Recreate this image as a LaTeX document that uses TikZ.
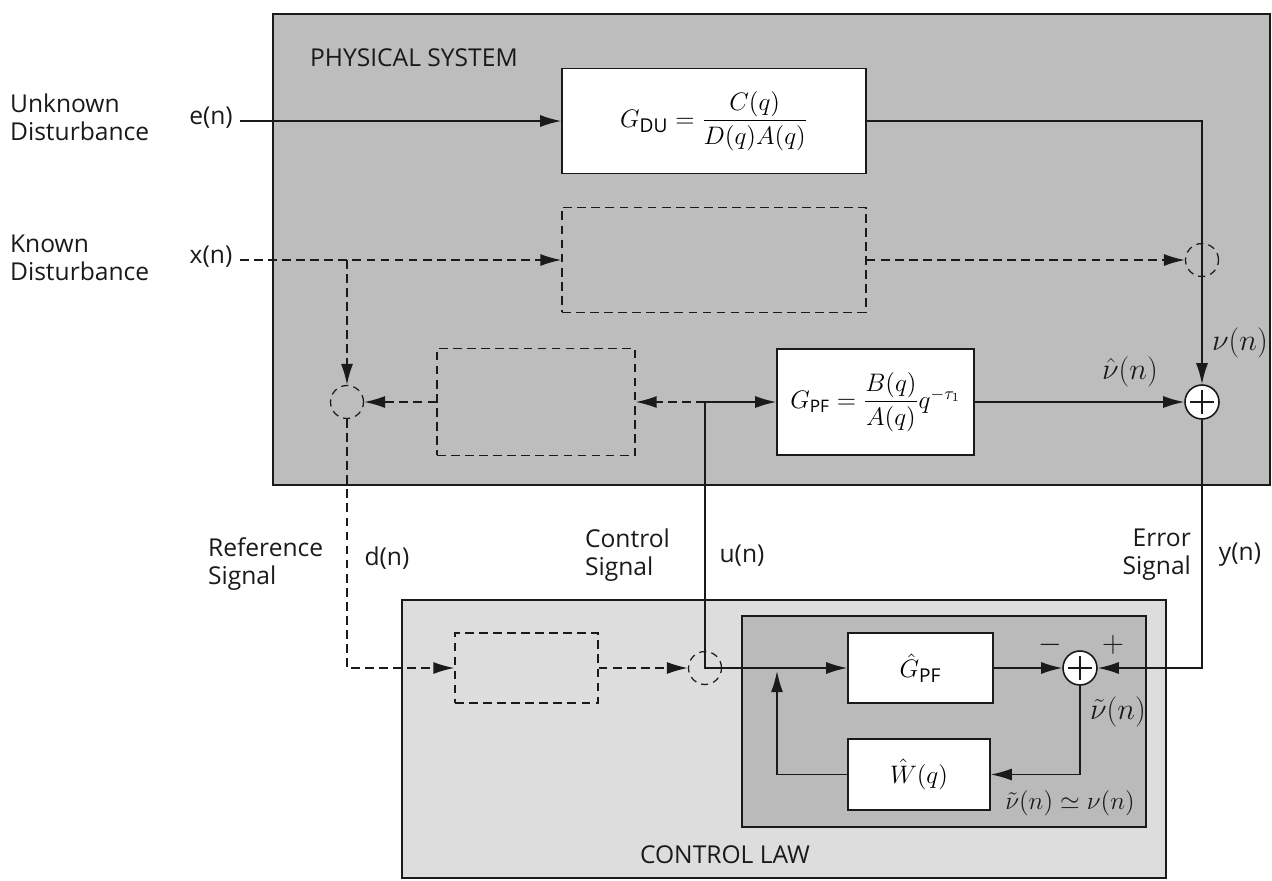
\documentclass[tikz,border=0pt]{standalone}
\usepackage{amsmath,amssymb}
\usepackage{fontspec}
\setmainfont{Open Sans}
\usetikzlibrary{arrows.meta,positioning,calc}
\definecolor{ink}    {HTML}{1A1A1A}
\definecolor{physbg} {HTML}{BDBDBD}
\definecolor{lawbg}  {HTML}{DDDDDD}
\definecolor{innerbg}{HTML}{BABABA}
\tikzset{
  region/.style ={draw=ink, line width=0.8pt, inner sep=0pt},
  block/.style  ={draw=ink, fill=white, line width=0.9pt, inner sep=0pt,
                  align=center, font=\fontsize{15.5}{18}\selectfont},
  dblock/.style ={draw=ink, line width=0.8pt, inner sep=0pt,
                  dash pattern=on 5pt off 3pt},
  sumnode/.style={circle, draw=ink, fill=white, line width=0.9pt,
                  minimum size=0.68cm, inner sep=0pt,
                  path picture={\draw[line width=1pt]
                    ([yshift=-3pt]path picture bounding box.north) --
                    ([yshift=3pt]path picture bounding box.south)
                    ([xshift=3pt]path picture bounding box.west) --
                    ([xshift=-3pt]path picture bounding box.east);}},
  dsum/.style   ={circle, draw=ink, line width=0.7pt, minimum size=0.66cm,
                  inner sep=0pt, dash pattern=on 4pt off 3pt},
  arr/.style    ={-{Latex[length=4.2mm,width=2.4mm]}, line width=0.9pt, draw=ink},
  darr/.style   ={arr, dash pattern=on 5pt off 3pt},
  lbl/.style    ={font=\fontsize{14}{16}\selectfont, align=left, text=ink,
                  inner sep=1pt},
  mlbl/.style   ={lbl, font=\fontsize{16}{18}\selectfont},
}
\begin{document}
\begin{tikzpicture}[x=0.02cm,y=-0.02cm]
  \useasboundingbox (0,0) rectangle (1272,880);
  % shaded regions
  \node[region, fill=physbg, minimum width=19.94cm, minimum height=9.42cm] (phys) at (771.5,249.5) {};
  \node[region, fill=lawbg, minimum width=15.28cm, minimum height=5.56cm] (law) at (784,739) {};
  \node[region, fill=innerbg, minimum width=8.08cm, minimum height=4.22cm] (inner) at (944,721.5) {};
  \node[lbl, anchor=west] (physlbl) at (308,58) {PHYSICAL SYSTEM};
  \node[lbl] (lawlbl) at (725,855) {CONTROL LAW};

  % blocks
  \node[block, minimum width=6.08cm, minimum height=2.1cm] (gdu) at (714,121)
    {$G_{\mathrm{DU}}=\dfrac{C(q)}{D(q)A(q)}$};
  \node[dblock, minimum width=6.08cm, minimum height=2.1cm] (hx) at (714,260) {};
  \node[dblock, minimum width=3.96cm, minimum height=2.14cm] (hd) at (536,402) {};
  \node[block, minimum width=3.94cm, minimum height=2.12cm,
        font=\fontsize{14}{17}\selectfont] (gpf) at (875.5,402)
    {$G_{\mathrm{PF}}=\dfrac{B(q)}{A(q)}q^{-\tau_1}$};
  \node[dblock, minimum width=2.86cm, minimum height=1.4cm] (wd) at (526.5,668) {};
  \node[block, minimum width=2.9cm, minimum height=1.4cm] (ghat) at (920.5,668) {$\hat{G}_{\mathrm{PF}}$};
  \node[block, minimum width=2.84cm, minimum height=1.42cm] (what) at (919,774.5) {$\hat{W}(q)$};

  % summing junctions
  \node[sumnode] (sumv) at (1202,402) {};
  \node[dsum] (sumx) at (1202,260) {};
  \node[dsum] (sumd) at (347,402) {};
  \node[dsum] (sumu) at (705,668) {};
  \node[sumnode] (sume) at (1080,668) {};

  \coordinate (ein) at (240,121);
  \coordinate (xin) at (240,260);
  \coordinate (jx) at (347,260);
  \coordinate (ju) at (705,402);
  \coordinate (fb) at (777,671);

  % signal paths
  \draw[arr] (ein) -- (gdu.west);
  \draw[arr] (gdu.east) -| (sumv.north);
  \draw[darr] (xin) -- (hx.west);
  \draw[darr] (hx.east) -- (sumx.west);
  \draw[darr] (jx) -- (sumd.north);
  \draw[darr] (hd.west) -- (sumd.east);
  \draw[darr] (sumd.south) |- (wd.west);
  \draw[darr] (wd.east) -- (sumu.west);
  \draw[darr] (ju) -- (hd.east);
  \draw[arr] (ju) -- (gpf.west);
  \draw[arr] (ju) |- (ghat.west);
  \draw[arr] (gpf.east) -- (sumv.west);
  \draw[arr] (sumv.south) |- (sume.east);
  \draw[arr] (ghat.east) -- (sume.west);
  \draw[arr] (sume.south) |- (what.east);
  \draw[arr] (what.west) -| (fb);

  % labels
  \node[lbl, anchor=west] (unklbl) at (8,117) {Unknown\\Disturbance};
  \node[lbl] (elbl) at (211,118) {e(n)};
  \node[lbl, anchor=west] (knolbl) at (8,258) {Known\\Disturbance};
  \node[lbl] (xlbl) at (211,257) {x(n)};
  \node[lbl, anchor=west] (reflbl) at (206,564) {Reference\\Signal};
  \node[lbl] (dlbl) at (387,558) {d(n)};
  \node[lbl, anchor=west] (ctllbl) at (583,555) {Control\\Signal};
  \node[lbl] (ulbl) at (742,556) {u(n)};
  \node[lbl, anchor=east, align=right] (errlbl) at (1193,555) {Error\\Signal};
  \node[lbl] (ylbl) at (1240,555) {y(n)};
  \node[mlbl] (nulbl) at (1240,343) {$\nu(n)$};
  \node[mlbl] (nuhatlbl) at (1130,372) {$\hat{\nu}(n)$};
  \node[mlbl] (minuslbl) at (1050,645) {$-$};
  \node[mlbl] (pluslbl) at (1113,645) {$+$};
  \node[mlbl, anchor=west] (nutillbl) at (1088,712) {$\tilde{\nu}(n)$};
  \node[mlbl, font=\fontsize{15}{17}\selectfont] (nueqlbl) at (1070,803) {$\tilde{\nu}(n)\simeq\nu(n)$};
\end{tikzpicture}
\end{document}
